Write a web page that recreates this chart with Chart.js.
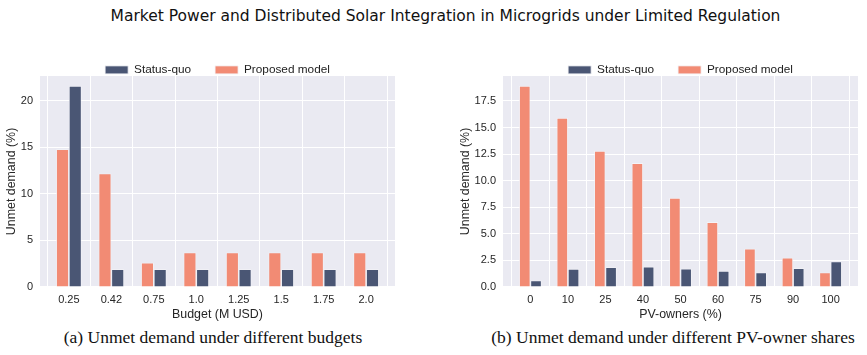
<!DOCTYPE html>
<html>
<head>
<meta charset="utf-8">
<script src="https://cdn.jsdelivr.net/npm/chart.js@4"></script>
<style>
  body { margin: 0; width: 867px; height: 355px; background: #fff; position: relative; overflow: hidden; }
  #title { position: absolute; top: 7px; left: 12px; width: 867px; text-align: center;
           font-family: "DejaVu Sans", sans-serif; font-size: 15.5px; color: #111; }
  .box { position: absolute; top: 40px; height: 282px; }
  .cap { position: absolute; top: 327px; font-family: "Liberation Serif", serif; font-size: 17.5px; color: #111;
         text-align: center; white-space: nowrap; }
</style>
</head>
<body>
<div id="title">Market Power and Distributed Solar Integration in Microgrids under Limited Regulation</div>
<div class="box" style="left:0;width:430px"><canvas id="chartA"></canvas></div>
<div class="box" style="left:454px;width:413px"><canvas id="chartB"></canvas></div>
<div class="cap" style="left:13px;width:400px">(a) Unmet demand under different budgets</div>
<div class="cap" style="left:458px;width:430px">(b) Unmet demand under different PV-owner shares</div>
<script>
// data
const budgets = ['0.25', '0.42', '0.75', '1.0', '1.25', '1.5', '1.75', '2.0'];
const budgetStatusQuo = [21.6, 1.9, 1.9, 1.9, 1.9, 1.9, 1.9, 1.9];
const budgetProposed = [14.8, 12.2, 2.6, 3.7, 3.7, 3.7, 3.7, 3.7];

const pvShares = ['0', '10', '25', '40', '50', '60', '75', '90', '100'];
const pvStatusQuo = [0.6, 1.7, 1.85, 1.9, 1.72, 1.5, 1.35, 1.75, 2.4];
const pvProposed = [18.9, 15.9, 12.8, 11.65, 8.37, 6.1, 3.6, 2.75, 1.35];

const budgetTicks = [0, 5, 10, 15, 20];
const pvTicks = [0, 2.5, 5, 7.5, 10, 12.5, 15, 17.5];

const NAVY = '#4A5674';
const SALMON = '#F28B74';
const FONT = 'Liberation Sans, Arial, sans-serif';

function toPoints(vals) {
  return vals.map((v, i) => ({ x: i, y: v }));
}

// keep the legend's horizontal spacing but shrink the gap under it
const legendHeight = {
  id: 'legendHeight',
  beforeInit(chart) {
    const fit = chart.legend.fit;
    chart.legend.fit = function () {
      fit.bind(chart.legend)();
      this.height = 36;
    };
  }
};

const plotBg = {
  id: 'plotBg',
  beforeDraw(chart) {
    const a = chart.chartArea;
    chart.ctx.save();
    chart.ctx.fillStyle = '#EAEAF2';
    chart.ctx.fillRect(a.left, a.top, a.right - a.left, a.bottom - a.top);
    chart.ctx.restore();
  }
};

function makeChart(id, cats, proposed, statusQuo, ticks, yMax, xTitle, decimals, yWidth, padRight) {
  const ctx = document.getElementById(id).getContext('2d');
  const n = cats.length;
  const pad = 0.05 * (n - 1 + 0.6); // matplotlib-style x margins
  return new Chart(ctx, {
    type: 'bar',
    data: {
      datasets: [
        { label: 'Proposed model', data: toPoints(proposed), backgroundColor: SALMON,
          borderColor: '#f4f4f8', borderWidth: 0.8 },
        { label: 'Status-quo', data: toPoints(statusQuo), backgroundColor: NAVY,
          borderColor: '#f4f4f8', borderWidth: 0.8 }
      ]
    },
    options: {
      responsive: true,
      maintainAspectRatio: false,
      animation: false,
      categoryPercentage: 0.6,
      barPercentage: 1.0,
      layout: { padding: { left: 0, right: padRight, top: 0, bottom: 0 } },
      plugins: {
        legend: {
          reverse: true,
          fullSize: false,
          labels: { boxWidth: 23, boxHeight: 8, padding: 24, color: '#222',
                    font: { family: FONT, size: 11.8 } }
        },
        tooltip: { enabled: false }
      },
      scales: {
        x: {
          type: 'linear',
          offset: false,
          min: -0.3 - pad,
          max: n - 1 + 0.3 + pad,
          afterBuildTicks: s => { s.ticks = cats.map((c, i) => ({ value: i })); },
          ticks: { callback: (v) => cats[v], color: '#262626', padding: 6,
                   font: { family: FONT, size: 11 } },
          grid: { color: '#ffffff', lineWidth: 1, drawTicks: false },
          border: { display: false },
          title: { display: true, text: xTitle, color: '#262626', padding: { top: -5, bottom: 0 },
                   font: { family: FONT, size: 12.4 } }
        },
        y: {
          min: 0,
          max: yMax,
          afterBuildTicks: s => { s.ticks = ticks.map(v => ({ value: v })); },
          afterFit: s => { s.width = yWidth; },
          ticks: { callback: v => v.toFixed(decimals), color: '#262626', padding: 7,
                   font: { family: FONT, size: 11 } },
          grid: { color: '#ffffff', lineWidth: 1, drawTicks: false },
          border: { display: false },
          title: { display: true, text: 'Unmet demand (%)', color: '#262626', padding: { top: 4, bottom: 4 },
                   font: { family: FONT, size: 12.4 } }
        }
      }
    },
    plugins: [legendHeight, plotBg]
  });
}

makeChart('chartA', budgets, budgetProposed, budgetStatusQuo, budgetTicks,
  Math.max(...budgetStatusQuo, ...budgetProposed) * 1.05, 'Budget (M USD)', 0, 40, 35);
makeChart('chartB', pvShares, pvProposed, pvStatusQuo, pvTicks,
  Math.max(...pvStatusQuo, ...pvProposed) * 1.05, 'PV-owners (%)', 1, 49, 9);
</script>
</body>
</html>
